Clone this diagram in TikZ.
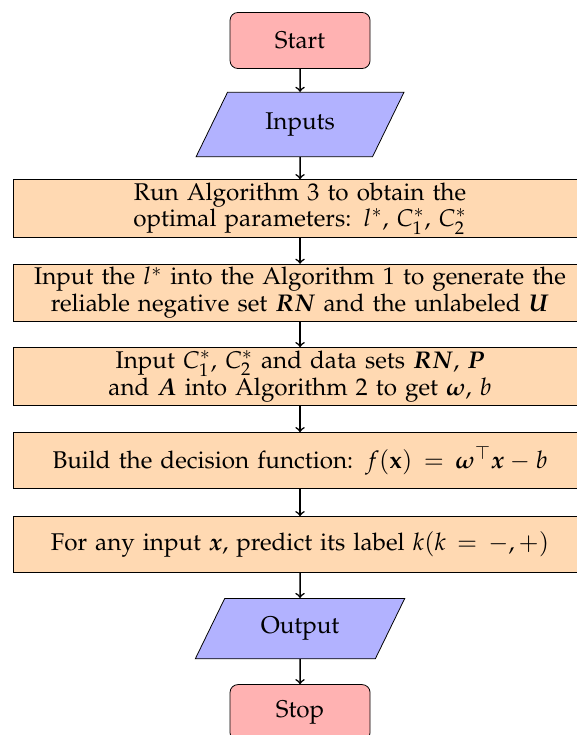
\documentclass[tikz,border=0pt]{standalone}
\usepackage[T1]{fontenc}
\usepackage{mathpazo}
\usepackage{amsmath}
\usetikzlibrary{shapes.geometric}

\begin{document}
\begin{tikzpicture}[
    node distance=1.5cm,
    font={\fontsize{12.3}{12}\selectfont},
    startstop/.style={rectangle, rounded corners, minimum width=2.5cm, minimum height=1cm, align=center, draw=black, fill=red!30},
    io/.style={trapezium, trapezium left angle=64, trapezium right angle=116, minimum width=3.75cm, minimum height=1cm, align=center, draw=black, fill=blue!30},
    process/.style={rectangle, minimum height=1cm, text width=10cm, inner ysep=1.5pt, align=center, draw=black, fill=orange!30},
    arrow/.style={->, thick}
]
    \useasboundingbox (-5.357,0.723) rectangle (4.929,-12.40);

    \node[startstop] (start) {Start};
    \node[io, below of=start] (inputs) {Inputs};
    \node[process, below of=inputs] (runalgo) {Run Algorithm 3 to obtain the\\ optimal parameters: $l^*$, $C_1^*$, $C_2^*$};
    \node[process, below of=runalgo] (negset) {Input the $l^*$ into the Algorithm 1 to generate the\\ reliable negative set $\boldsymbol{RN}$ and the unlabeled $\boldsymbol{U}$};
    \node[process, below of=negset] (train) {Input $C_1^*$, $C_2^*$ and data sets $\boldsymbol{RN}$, $\boldsymbol{P}$\\ and $\boldsymbol{A}$ into Algorithm 2 to get $\boldsymbol{\omega}$, $b$};
    \node[process, below of=train] (decision) {Build the decision function: $f(\mathbf{x}) = \boldsymbol{\omega}^{\top}\boldsymbol{x} - b$};
    \node[process, below of=decision] (predict) {For any input $\boldsymbol{x}$, predict its label $k(k = -,+)$};
    \node[io, below of=predict] (output) {Output};
    \node[startstop, below of=output] (stop) {Stop};

    \draw[arrow] (start) -- (inputs);
    \draw[arrow] (inputs) -- (runalgo);
    \draw[arrow] (runalgo) -- (negset);
    \draw[arrow] (negset) -- (train);
    \draw[arrow] (train) -- (decision);
    \draw[arrow] (decision) -- (predict);
    \draw[arrow] (predict) -- (output);
    \draw[arrow] (output) -- (stop);
\end{tikzpicture}
\end{document}
